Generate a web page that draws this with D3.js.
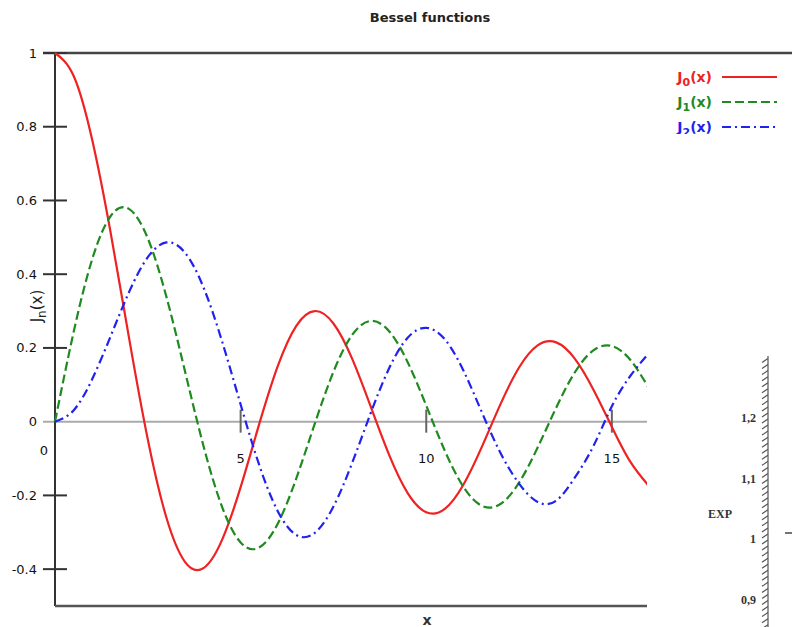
<!DOCTYPE html>
<html>
<head>
<meta charset="utf-8">
<script src="https://cdn.jsdelivr.net/npm/d3@7"></script>
<style>
  body { margin: 0; background: #fff; }
  svg { display: block; font-family: "DejaVu Sans", sans-serif; }
</style>
</head>
<body>
<div id="chart"></div>
<script>
// x sample points (step 0.5) and series
var xs = [0, 0.5, 1, 1.5, 2, 2.5, 3, 3.5, 4, 4.5, 5, 5.5, 6, 6.5, 7, 7.5, 8,
          8.5, 9, 9.5, 10, 10.5, 11, 11.5, 12, 12.5, 13, 13.5, 14, 14.5, 15, 15.5, 16];
var j0 = [1, 0.9385, 0.7652, 0.5118, 0.2239, -0.0484, -0.2601, -0.3801, -0.3971, -0.3205,
          -0.1776, -0.0068, 0.1506, 0.2601, 0.3001, 0.2663, 0.1717, 0.0419, -0.0903, -0.1939,
          -0.2459, -0.2366, -0.1712, -0.0677, 0.0477, 0.1469, 0.2069, 0.2150, 0.1711, 0.0875,
          -0.0142, -0.1092, -0.1749];
var j1 = [0, 0.2423, 0.4401, 0.5579, 0.5767, 0.4971, 0.3391, 0.1374, -0.0660, -0.2311,
          -0.3276, -0.3414, -0.2767, -0.1538, -0.0047, 0.1352, 0.2346, 0.2731, 0.2453, 0.1613,
          0.0435, -0.0789, -0.1768, -0.2284, -0.2234, -0.1655, -0.0703, 0.0380, 0.1334, 0.1934,
          0.2051, 0.1672, 0.0904];
var j2 = [0, 0.0306, 0.1149, 0.2321, 0.3528, 0.4461, 0.4861, 0.4586, 0.3641, 0.2178,
          0.0466, -0.1173, -0.2429, -0.3074, -0.3014, -0.2303, -0.1130, 0.0223, 0.1448, 0.2279,
          0.2546, 0.2235, 0.1390, 0.0250, -0.0849, -0.1680, -0.2177, -0.2143, -0.1520, -0.0668,
          0.0416, 0.1245, 0.1862];
var seriesNames = ['0', '1', '2'];
var yTicks = [-0.4, -0.2, 0, 0.2, 0.4, 0.6, 0.8, 1];
var yTickLabels = ['-0.4', '-0.2', '0', '0.2', '0.4', '0.6', '0.8', '1'];
var xTicks = [5, 10, 15];
var expTicks = [0.9, 1, 1.1, 1.2];
var expTickLabels = ['0,9', '1', '1,1', '1,2'];

var w = 792, h = 627;
var svg = d3.select('#chart').append('svg')
    .attr('width', w)
    .attr('height', h);

var x = d3.scaleLinear().domain([0, 16]).range([55, 649]);
var y = d3.scaleLinear().domain([-0.5, 1]).range([606, 53]);

var colors = ['#ee2222', '#1f8a1f', '#2222ee'];
var dashes = [null, '9,4', '9,4,2,4'];
var series = [j0, j1, j2];

svg.append('defs').append('clipPath').attr('id', 'plot')
  .append('rect').attr('x', 40).attr('y', 40).attr('width', 607).attr('height', 580);
svg.select('defs').append('clipPath').attr('id', 'leg')
  .append('rect').attr('x', 600).attr('y', 60).attr('width', 192).attr('height', 74);

// title
svg.append('text')
    .attr('x', 430).attr('y', 22)
    .attr('text-anchor', 'middle')
    .style('font-size', '13px')
    .style('font-weight', 'bold')
    .style('fill', '#222')
    .text('Bessel functions');

// zero line
svg.append('line')
    .attr('x1', 43).attr('x2', 647)
    .attr('y1', y(0)).attr('y2', y(0))
    .style('stroke', '#aaa').style('stroke-width', 2);

// frame: top line, left axis, bottom line
svg.append('line')
    .attr('x1', 43).attr('x2', 792)
    .attr('y1', y(1)).attr('y2', y(1))
    .style('stroke', '#444').style('stroke-width', 2.5);
svg.append('line')
    .attr('x1', x(0)).attr('x2', x(0))
    .attr('y1', y(1)).attr('y2', 606)
    .style('stroke', '#333').style('stroke-width', 2);
svg.append('line')
    .attr('x1', x(0)).attr('x2', 647)
    .attr('y1', 606).attr('y2', 606)
    .style('stroke', '#555').style('stroke-width', 2.5);

// y ticks
var yt = svg.selectAll('g.ytick')
    .data(yTicks)
  .enter().append('g')
    .attr('class', 'ytick')
    .attr('transform', function(d) { return 'translate(0,' + y(d) + ')'; });
yt.filter(function(d) { return d !== 0; }).append('line')
    .attr('x1', 43).attr('x2', 67)
    .style('stroke', '#333').style('stroke-width', 2);
yt.append('text')
    .attr('x', 37).attr('dy', '0.35em')
    .attr('text-anchor', 'end')
    .style('font-size', '13px')
    .style('fill', '#111')
    .text(function(d, i) { return yTickLabels[i]; });

// x ticks on the zero line
var xt = svg.selectAll('g.xtick')
    .data(xTicks)
  .enter().append('g')
    .attr('class', 'xtick')
    .attr('transform', function(d) { return 'translate(' + x(d) + ',' + y(0) + ')'; });
xt.append('line')
    .attr('y1', -12).attr('y2', 11)
    .style('stroke', '#666').style('stroke-width', 2);
xt.append('text')
    .attr('y', 41)
    .attr('text-anchor', 'middle')
    .style('font-size', '13px')
    .style('fill', '#111')
    .text(function(d) { return d; });
svg.append('text')
    .attr('x', 44).attr('y', y(0) + 33)
    .attr('text-anchor', 'middle')
    .style('font-size', '13px')
    .style('fill', '#111')
    .text('0');

// axis labels
svg.append('text')
    .attr('x', 427).attr('y', 625)
    .attr('text-anchor', 'middle')
    .style('font-size', '14px')
    .style('font-weight', 'bold')
    .style('fill', '#333')
    .text('x');
var yl = svg.append('text')
    .attr('transform', 'translate(42,306) rotate(-90)')
    .attr('text-anchor', 'middle')
    .style('font-size', '15px')
    .style('fill', '#222');
yl.append('tspan').text('J');
yl.append('tspan').attr('dy', 4).style('font-size', '12px').text('n');
yl.append('tspan').attr('dy', -4).text('(x)');

// curves
var line = d3.line()
    .x(function(d, i) { return x(xs[i]); })
    .y(function(d) { return y(d); })
    .curve(d3.curveNatural);
svg.append('g').attr('clip-path', 'url(#plot)')
  .selectAll('path.curve')
    .data(series)
  .enter().append('path')
    .attr('class', 'curve')
    .attr('d', line)
    .style('fill', 'none')
    .style('stroke', function(d, i) { return colors[i]; })
    .style('stroke-width', 2.2)
    .style('stroke-dasharray', function(d, i) { return dashes[i]; });

// legend
var leg = svg.append('g').attr('clip-path', 'url(#leg)')
  .selectAll('g.leg')
    .data(seriesNames)
  .enter().append('g')
    .attr('class', 'leg')
    .attr('transform', function(d, i) { return 'translate(0,' + (77 + i * 25) + ')'; });
leg.append('line')
    .attr('x1', 722).attr('x2', 777)
    .style('stroke', function(d, i) { return colors[i]; })
    .style('stroke-width', 2.2)
    .style('stroke-dasharray', function(d, i) { return dashes[i]; });
var lt = leg.append('text')
    .attr('x', 712).attr('y', 5)
    .attr('text-anchor', 'end')
    .style('font-size', '14px')
    .style('font-weight', 'bold')
    .style('fill', function(d, i) { return colors[i]; });
lt.append('tspan').text('J');
lt.append('tspan').attr('dy', 4).style('font-size', '11px').text(function(d) { return d; });
lt.append('tspan').attr('dy', -4).text('(x)');

// fragment of another chart, bottom right
var e = d3.scaleLinear().domain([1, 1.2]).range([541, 420]);
var minor = d3.range(86, 132).map(function(v) { return v / 100; });
svg.append('line')
    .attr('x1', 768).attr('x2', 768)
    .attr('y1', 356).attr('y2', 627)
    .style('stroke', '#777').style('stroke-width', 1.5);
svg.selectAll('path.etick')
    .data(minor.filter(function(v) { return e(v) > 356; }))
  .enter().append('path')
    .attr('class', 'etick')
    .attr('d', function(v) { return 'M762,' + (e(v) + 3) + 'L768,' + (e(v) - 1); })
    .style('stroke', '#555').style('stroke-width', 1.2).style('fill', 'none');
svg.selectAll('text.elab')
    .data(expTicks)
  .enter().append('text')
    .attr('class', 'elab')
    .attr('x', 756).attr('y', function(v) { return e(v) + 2; })
    .attr('text-anchor', 'end')
    .style('font-family', '"Liberation Serif", serif')
    .style('font-size', '12px')
    .style('font-weight', 'bold')
    .style('fill', '#333')
    .text(function(v, i) { return expTickLabels[i]; });
svg.append('text')
    .attr('x', 720).attr('y', 518)
    .attr('text-anchor', 'middle')
    .style('font-family', '"Liberation Serif", serif')
    .style('font-size', '12px')
    .style('font-weight', 'bold')
    .style('fill', '#333')
    .text('EXP');
svg.append('line')
    .attr('x1', 785).attr('x2', 792)
    .attr('y1', 533).attr('y2', 533)
    .style('stroke', '#444').style('stroke-width', 1.5);
</script>
</body>
</html>
